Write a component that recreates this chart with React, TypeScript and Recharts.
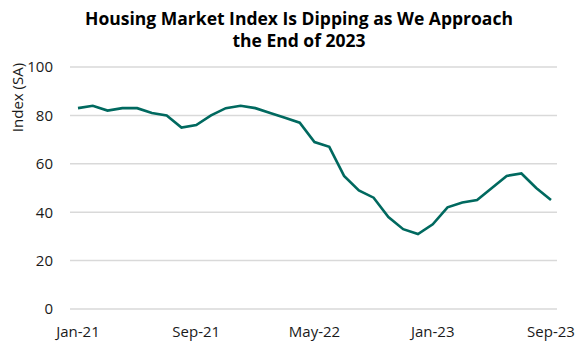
import React from "react";
import { LineChart, Line, XAxis, YAxis, CartesianGrid } from "recharts";

const months = [
  "Jan-21","Feb-21","Mar-21","Apr-21","May-21","Jun-21","Jul-21","Aug-21","Sep-21","Oct-21","Nov-21","Dec-21",
  "Jan-22","Feb-22","Mar-22","Apr-22","May-22","Jun-22","Jul-22","Aug-22","Sep-22","Oct-22","Nov-22","Dec-22",
  "Jan-23","Feb-23","Mar-23","Apr-23","May-23","Jun-23","Jul-23","Aug-23","Sep-23",
];
const hmi = [
  83, 84, 82, 83, 83, 81, 80, 75, 76, 80, 83, 84,
  83, 81, 79, 77, 69, 67, 55, 49, 46, 38, 33, 31,
  35, 42, 44, 45, 50, 55, 56, 50, 45,
];
const yTicks = [0, 20, 40, 60, 80, 100];

const data = months.map((m, i) => ({ month: m, value: hmi[i] }));

const FONT = "'Open Sans', sans-serif";

export default function App() {
  return (
    <div style={{ position: "absolute", left: 0, top: 0, width: 582, height: 349, background: "#fff", fontFamily: FONT }}>
      <div
        style={{
          position: "absolute",
          left: 8,
          top: 7,
          width: 582,
          textAlign: "center",
          fontWeight: 700,
          fontSize: 17.5,
          lineHeight: "22px",
          color: "#000",
        }}
      >
        Housing Market Index Is Dipping as We Approach
        <br />
        the End of 2023
      </div>
      <LineChart
        width={582}
        height={349}
        data={data}
        margin={{ top: 67, right: 25, bottom: 0, left: 0 }}
      >
        <CartesianGrid vertical={false} stroke="#d9d9d9" strokeWidth={1.5} />
        <XAxis
          dataKey="month"
          interval={7}
          axisLine={false}
          tickLine={false}
          height={40}
          tickMargin={11}
          padding={{ left: 8, right: 6 }}
          tick={{ fill: "#1a1a1a", fontSize: 15, fontFamily: FONT }}
        />
        <YAxis
          domain={[0, 100]}
          ticks={yTicks}
          axisLine={false}
          tickLine={false}
          width={70}
          tickMargin={11}
          tick={{ fill: "#1a1a1a", fontSize: 15, fontFamily: FONT }}
          label={{
            content: () => (
              <text
                x={16.5}
                y={97.5}
                transform="rotate(-90, 16.5, 97.5)"
                textAnchor="middle"
                dominantBaseline="central"
                fontSize={15}
                fontFamily={FONT}
                fill="#1a1a1a"
              >
                Index (SA)
              </text>
            ),
          }}
        />
        <Line
          type="linear"
          dataKey="value"
          stroke="#00695f"
          strokeWidth={2.6}
          dot={false}
          isAnimationActive={false}
        />
      </LineChart>
    </div>
  );
}
